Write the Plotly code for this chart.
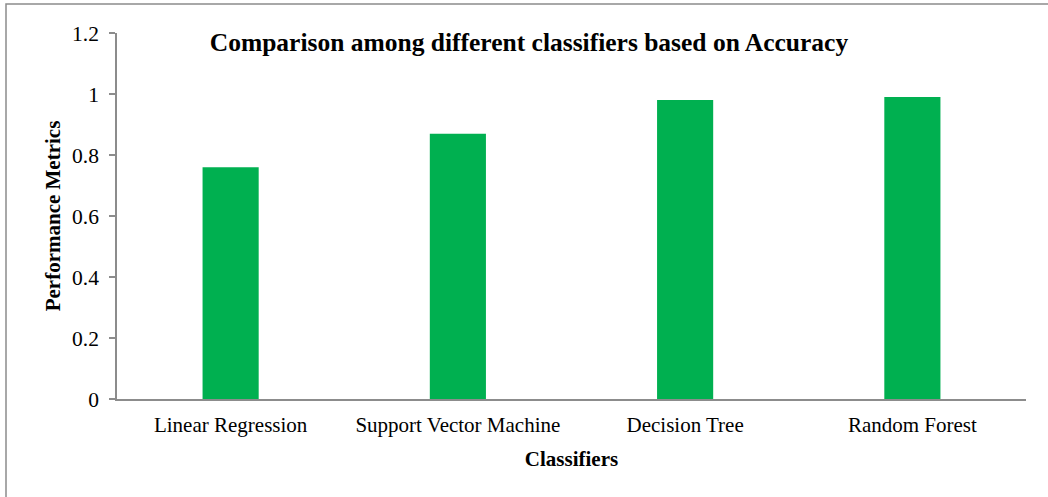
import plotly.graph_objects as go

categories = ["Linear Regression", "Support Vector Machine", "Decision Tree", "Random Forest"]
accuracy = [0.76, 0.87, 0.98, 0.99]
y_ticks = [0, 0.2, 0.4, 0.6, 0.8, 1.0, 1.2]
y_tick_labels = ["0", "0.2", "0.4", "0.6", "0.8", "1", "1.2"]

W, H = 1048, 497
L, R, T, B = 117, 22, 33, 98
pw, ph = W - L - R, H - T - B

font = "Liberation Serif, Times New Roman, serif"
grey = "#8c8c8c"

fig = go.Figure()
fig.add_trace(go.Bar(x=categories, y=accuracy, marker=dict(color="#00b050", line=dict(width=0)), width=0.247))

fig.update_layout(
    width=W, height=H,
    margin=dict(l=L, r=R, t=T, b=B, pad=0),
    paper_bgcolor="white", plot_bgcolor="white",
    showlegend=False,
    font=dict(family=font, size=21, color="black"),
    title=dict(text="<b>Comparison among different classifiers based on Accuracy</b>",
               x=529 / W, xanchor="center", xref="container",
               y=1 - 42 / H, yanchor="middle", yref="container",
               font=dict(family=font, size=25.5, color="black")),
    xaxis=dict(showline=True, linecolor=grey, linewidth=1.5, ticks="", showgrid=False,
               tickfont=dict(family=font, size=21), ticklabelstandoff=6,
               title=dict(text="<b>Classifiers</b>", font=dict(family=font, size=21), standoff=15)),
    yaxis=dict(range=[0, 1.2], tickvals=y_ticks, ticktext=y_tick_labels, showline=True,
               linecolor=grey, linewidth=1.5, ticks="outside", ticklen=6, tickcolor=grey,
               tickwidth=1.5, showgrid=False, zeroline=False,
               tickfont=dict(family=font, size=21.5), ticklabelstandoff=6,
               title=dict(text="<b>Performance Metrics</b>", font=dict(family=font, size=21), standoff=6)),
)

# outer chart border (left and top visible; right/bottom cropped)
x0 = (6 - L) / pw
y1 = (H - B - 4) / ph
fig.add_shape(type="rect", xref="paper", yref="paper", x0=x0, x1=1.2, y0=-0.5, y1=y1,
              line=dict(color=grey, width=1.5), fillcolor="rgba(0,0,0,0)", layer="below")

fig.write_html("out.html")
